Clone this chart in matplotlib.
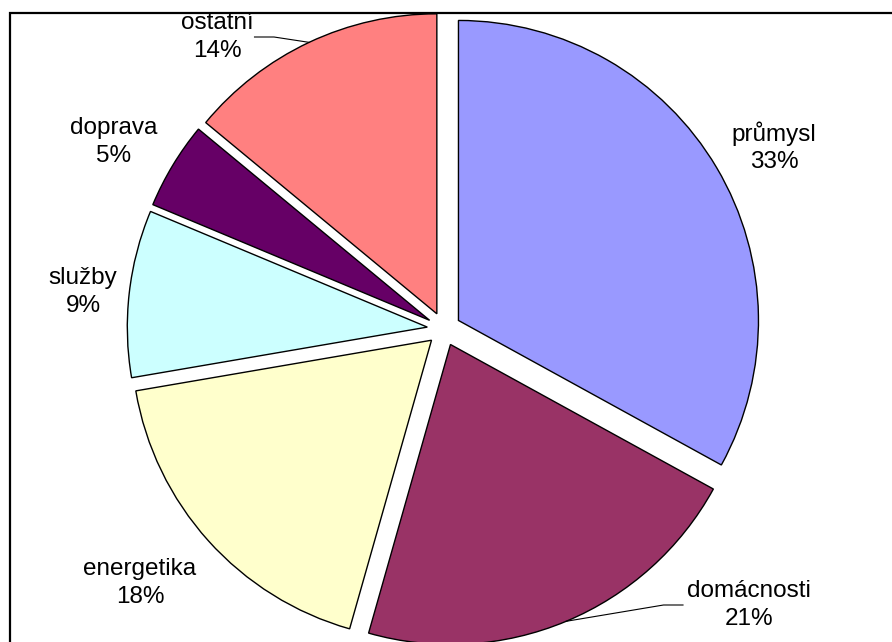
import numpy as np
import matplotlib
matplotlib.use('Agg')
import matplotlib.pyplot as plt
from matplotlib.patches import Rectangle

# data (shares; labels show rounded percentages)
categories = ['průmysl', 'domácnosti', 'energetika', 'služby', 'doprava', 'ostatní']
shares = [33.0, 21.4, 17.9, 9.0, 4.7, 14.0]
colors = ['#9999FF', '#993366', '#FFFFCC', '#CCFFFF', '#660066', '#FF8080']

# label block centres in pixels (x from left, y from top)
label_px = [(774, 147), (749, 605), (140, 583), (83, 292), (114, 142), (217, 37)]
leader = [False, True, False, False, False, True]

W, H = 892, 642
cx, cy, R = 444, 329, 300  # pie centre and radius in pixels
explode = 0.056

plt.rcParams['font.family'] = ['Liberation Sans', 'DejaVu Sans']

fig = plt.figure(figsize=(W / 100, H / 100), dpi=100)
ax = fig.add_axes([0, 0, 1, 1])

wedges, _ = ax.pie(shares, colors=colors, startangle=90, counterclock=False,
                   explode=[explode] * len(shares),
                   wedgeprops=dict(edgecolor='black', linewidth=1.0))

ax.set_aspect('auto')
ax.set_xlim(-cx / R, (W - cx) / R)
ax.set_ylim(-(H - cy) / R, cy / R)
ax.axis('off')


def px2data(px, py):
    return (px - cx) / R, (cy - py) / R


total = sum(shares)
for w, name, val, (lx, ly), lead in zip(wedges, categories, shares, label_px, leader):
    x, y = px2data(lx, ly)
    pct = round(val / total * 100)
    ax.text(x, y, f'{name}\n{pct}%', ha='center', va='center',
            fontsize=17.5, linespacing=1.3, color='black')
    if lead:
        mid = np.deg2rad((w.theta1 + w.theta2) / 2)
        ox, oy = w.center
        ex, ey = ox + np.cos(mid), oy + np.sin(mid)
        # short horizontal segment next to the label, then on to the wedge
        if x > ex:
            sx = x - 0.22
            hx = sx - 0.065
        else:
            sx = x + 0.125
            hx = sx + 0.065
        ax.plot([ex, hx, sx], [ey, y, y], color='black', lw=0.8)

# chart frame (right and bottom run off the picture)
fig.patches.append(Rectangle((10 / W, -0.1), 1.2, 1 - 13 / H + 0.1,
                             transform=fig.transFigure, fill=False,
                             edgecolor='black', linewidth=1.6))

fig.savefig('out.png', dpi=100)
